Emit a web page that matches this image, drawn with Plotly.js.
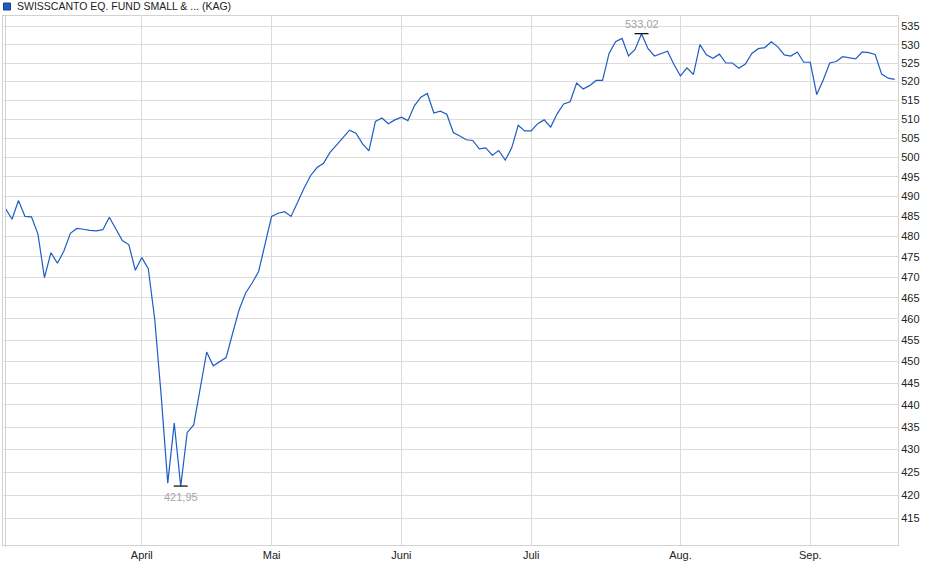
<!DOCTYPE html>
<html>
<head>
<meta charset="utf-8">
<script src="https://cdn.plot.ly/plotly-3.0.1.min.js"></script>
<style>
html,body{margin:0;padding:0;background:#fff;}
#chart{width:940px;height:579px;}
</style>
</head>
<body>
<div id="chart"></div>
<script>
// ---- data ----
var seriesName = "SWISSCANTO EQ. FUND SMALL & ... (KAG)";

// trading-day values, March 2025 to mid September 2025
var values = [
  487.0, 484.3, 489.0, 485.0, 484.9, 480.6, 469.9, 476.0, 473.4, 476.4,
  480.8, 482.0, 481.8, 481.5, 481.4, 481.7, 484.8, 481.8, 479.0, 478.0,
  471.7, 474.8, 472.1, 459.8, 441.9, 422.6, 435.9, 421.95, 433.8, 435.5,
  444.2, 452.2, 449.0, 450.0, 450.9, 456.6, 462.2, 466.2, 468.6, 471.4,
  478.3, 485.0, 485.8, 486.2, 485.0, 488.6, 492.1, 495.3, 497.4, 498.5,
  501.3, 503.2, 505.2, 507.1, 506.3, 503.6, 501.7, 509.4, 510.3, 508.8,
  509.8, 510.5, 509.6, 513.5, 515.8, 516.8, 511.6, 512.1, 511.3, 506.5,
  505.6, 504.6, 504.4, 502.2, 502.5, 500.6, 501.8, 499.3, 502.5, 508.4,
  506.9, 506.9, 508.8, 509.8, 507.9, 511.4, 514.0, 514.6, 519.6, 518.0,
  518.9, 520.3, 520.3, 527.6, 530.8, 531.7, 526.9, 528.7, 533.02, 528.9,
  526.9, 527.6, 528.2, 524.6, 521.5, 523.7, 521.9, 530.0, 527.2, 526.3,
  527.4, 525.0, 525.0, 523.6, 524.7, 527.6, 528.9, 529.2, 530.8, 529.4,
  527.2, 526.9, 528.0, 525.2, 525.2, 516.5, 520.4, 525.0, 525.4, 526.7,
  526.4, 526.1, 528.0, 527.8, 527.3, 522.0, 520.9, 520.6
];

// month starts (trading-day index) and their labels
var monthIndex  = [21, 41, 61, 81, 104, 124];
var monthLabels = ["April", "Mai", "Juni", "Juli", "Aug.", "Sep."];

// y axis ticks
var yTickValues = [415, 420, 425, 430, 435, 440, 445, 450, 455, 460, 465, 470,
                   475, 480, 485, 490, 495, 500, 505, 510, 515, 520, 525, 530, 535];

// ---- build ----
var xs = values.map(function (v, i) { return i; });
var iMax = 0, iMin = 0;
values.forEach(function (v, i) {
  if (v > values[iMax]) iMax = i;
  if (v < values[iMin]) iMin = i;
});
function fmt(v) { return v.toFixed(2).replace('.', ','); }

var FONT = "Liberation Sans, Arial, Helvetica, sans-serif";
var lineColor = "#1f5cc4";
var gridColor = "#dcdcdc";
var frameColor = "#d2d2d2";

var plotL = 3, plotR = 42, plotT = 16, plotB = 34;
var W = 940, H = 579;
var pw = W - plotL - plotR, ph = H - plotT - plotB;
function px2paperX(px) { return (px - plotL) / pw; }
function px2paperY(py) { return (H - plotB - py) / ph; }

var traces = [
  {
    type: "scatter", mode: "lines", x: xs, y: values, name: seriesName,
    line: { color: lineColor, width: 1.2 }, hoverinfo: "skip"
  },
  {
    type: "scatter", mode: "markers",
    x: [iMax, iMin], y: [values[iMax], values[iMin]],
    marker: { symbol: "line-ew", size: 10, color: "#000", line: { color: "#000", width: 1.2 } },
    hoverinfo: "skip"
  }
];

var layout = {
  width: W, height: H,
  margin: { l: plotL, r: plotR, t: plotT, b: plotB, pad: 0 },
  paper_bgcolor: "#fff", plot_bgcolor: "#fff",
  showlegend: false,
  font: { family: FONT, size: 11, color: "#222" },
  xaxis: {
    range: [-0.385, 137.52],
    tickmode: "array", tickvals: monthIndex, ticktext: monthLabels,
    showgrid: true, gridcolor: gridColor, gridwidth: 1,
    zeroline: false, showline: true, mirror: true, linecolor: frameColor, linewidth: 1,
    ticks: "", tickfont: { family: FONT, size: 11, color: "#222" }
  },
  yaxis: {
    type: "log",
    range: [Math.log10(409.3), Math.log10(537.9)],
    side: "right",
    tickmode: "array", tickvals: yTickValues, ticktext: yTickValues.map(String),
    showgrid: true, gridcolor: gridColor, gridwidth: 1,
    zeroline: false, showline: true, mirror: true, linecolor: frameColor, linewidth: 1,
    ticks: "", tickfont: { family: FONT, size: 11, color: "#222" }
  },
  shapes: [
    { type: "line", xref: "x", yref: "paper", x0: 0, x1: 0, y0: -0.004, y1: 1,
      line: { color: frameColor, width: 1 } },
    { type: "rect", xref: "paper", yref: "paper",
      x0: px2paperX(3.5), x1: px2paperX(10.5), y0: px2paperY(10), y1: px2paperY(3),
      fillcolor: "#1f5cc4", line: { color: "#1b3f86", width: 1 } }
  ],
  annotations: [
    { xref: "paper", yref: "paper", x: px2paperX(14.5), y: px2paperY(6.5),
      xanchor: "left", yanchor: "middle", showarrow: false, text: seriesName,
      font: { family: FONT, size: 10.5, color: "#222" } },
    { xref: "x", yref: "y", x: iMax, y: Math.log10(values[iMax]), yshift: 10,
      xanchor: "center", yanchor: "middle", showarrow: false, text: fmt(values[iMax]),
      font: { family: FONT, size: 11, color: "#a4a4a4" } },
    { xref: "x", yref: "y", x: iMin, y: Math.log10(values[iMin]), yshift: -11,
      xanchor: "center", yanchor: "middle", showarrow: false, text: fmt(values[iMin]),
      font: { family: FONT, size: 11, color: "#a4a4a4" } }
  ]
};

Plotly.newPlot("chart", traces, layout, { displayModeBar: false, staticPlot: true });
</script>
</body>
</html>
